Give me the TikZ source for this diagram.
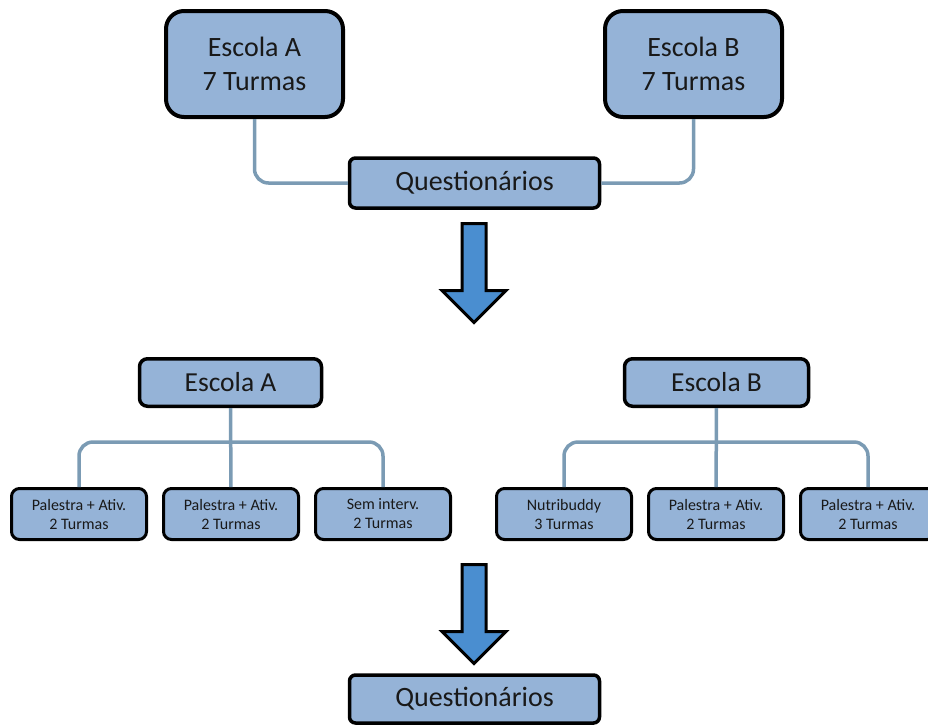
\documentclass[tikz,border=0pt]{standalone}
\usepackage{fontspec}
\setmainfont{Carlito}
\usetikzlibrary{positioning}

\definecolor{boxblue}{HTML}{95B3D7}
\definecolor{linkgray}{HTML}{7B9BB4}
\definecolor{arrowblue}{HTML}{4A8ED0}

\begin{document}
\begin{tikzpicture}[
    x=1pt, y=-1pt,
    node distance=14pt,
    box/.style={draw=black, line width=3.5pt, fill=boxblue, align=center, inner sep=0pt, text=black!90},
    topbox/.style={box, line width=4pt, rounded corners=18pt, minimum width=177pt, minimum height=106pt, font=\fontsize{28}{34}\selectfont},
    qbox/.style={box, rounded corners=6pt, minimum width=250pt, minimum height=48pt, font=\fontsize{28}{34}\selectfont},
    midbox/.style={box, rounded corners=8pt, minimum width=182pt, minimum height=47.5pt, font=\fontsize{27.5}{33}\selectfont},
    leafbox/.style={box, line width=3pt, rounded corners=8pt, minimum width=135pt, minimum height=51pt, font=\fontsize{16}{19}\selectfont},
    link/.style={draw=linkgray, line width=3.5pt, rounded corners=14pt},
    bigarrow/.style={draw=black, line width=3pt, fill=arrowblue, line join=miter},
    downarrow/.pic={\draw[bigarrow] (-12,0) -- (12,0) -- (12,67) -- (32,67) -- (0,99) -- (-32,67) -- (-12,67) -- cycle;}
]
    \clip (0,0) rectangle (928,726);

    % first round
    \node[topbox] (escA) at (254.5,64) {Escola A\\7 Turmas};
    \node[topbox] (escB) at (693.5,64) {Escola B\\7 Turmas};
    \node[qbox, minimum height=50pt] (quest1) at (474.5,183) {Questionários};

    \draw[link] (escA) |- (quest1);
    \draw[link] (escB) |- (quest1);

    \pic at (474,223.5) {downarrow};

    % groups
    \node[midbox] (ma) at (230.5,382.5) {Escola A};
    \node[midbox, minimum width=184pt] (mb) at (716.5,382.5) {Escola B};

    \node[leafbox] (a2) at (231,514) {Palestra + Ativ.\\2 Turmas};
    \node[leafbox, left=of a2] (a1) {Palestra + Ativ.\\2 Turmas};
    \node[leafbox, right=of a2] (a3) {Sem interv.\\2 Turmas};

    \node[leafbox] (b2) at (716,514) {Palestra + Ativ.\\2 Turmas};
    \node[leafbox, left=of b2] (b1) {Nutribuddy\\3 Turmas};
    \node[leafbox, right=of b2] (b3) {Palestra + Ativ.\\2 Turmas};

    \coordinate (ja) at (231,442);
    \coordinate (jb) at (716,442);

    \draw[link] (a1) |- (ja) -| (a3);
    \draw[link] (ma) -- (a2);
    \draw[link] (b1) |- (jb) -| (b3);
    \draw[link] (mb) -- (b2);

    \pic at (474,564.5) {downarrow};

    % second round
    \node[qbox] (quest2) at (474.5,699) {Questionários};
\end{tikzpicture}
\end{document}
